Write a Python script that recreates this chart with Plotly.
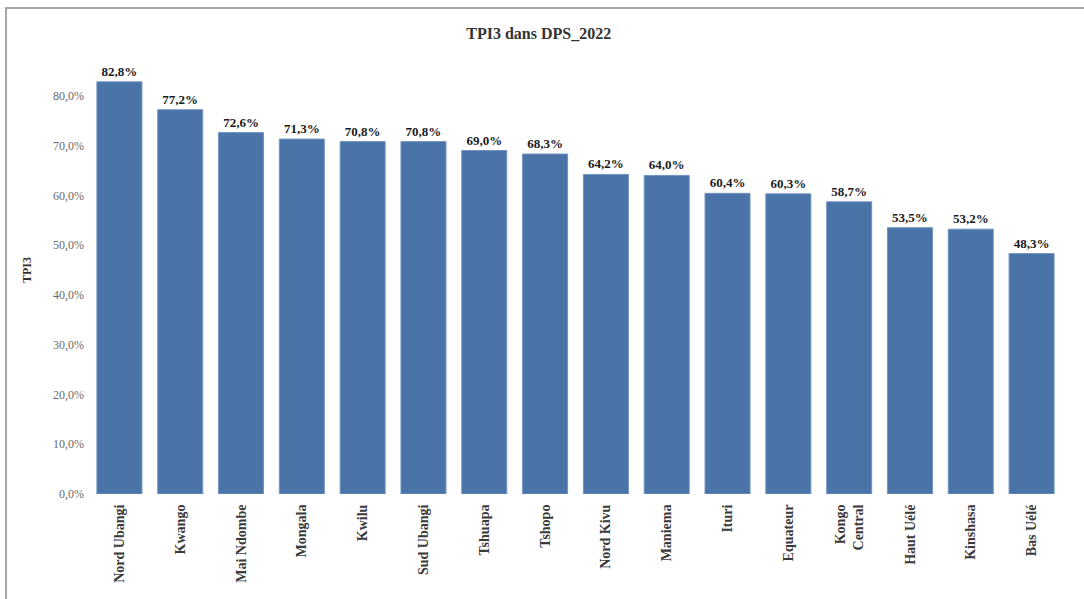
import plotly.graph_objects as go

# DPS (provinces) and their TPI3 coverage for 2022, sorted descending
provinces = [
    "Nord Ubangi", "Kwango", "Mai Ndombe", "Mongala", "Kwilu", "Sud Ubangi",
    "Tshuapa", "Tshopo", "Nord Kivu", "Maniema", "Ituri", "Equateur",
    "Kongo<br>Central", "Haut Uélé", "Kinshasa", "Bas Uélé",
]
tpi3 = [82.8, 77.2, 72.6, 71.3, 70.8, 70.8, 69.0, 68.3, 64.2, 64.0,
        60.4, 60.3, 58.7, 53.5, 53.2, 48.3]

values = [v / 100 for v in tpi3]
labels = ["<b>" + f"{v:.1f}%".replace(".", ",") + "</b>" for v in tpi3]
tick_text = [f"<b>{p}</b>" for p in provinces]

serif = "Liberation Serif"

fig = go.Figure(
    go.Bar(
        x=provinces,
        y=values,
        text=labels,
        textposition="outside",
        cliponaxis=False,
        textfont=dict(family=serif, size=13, color="#1a1a1a"),
        marker=dict(color="#4A74A8", line=dict(color="#6f93c2", width=1)),
        width=0.74,
    )
)

fig.update_layout(
    width=1084,
    height=599,
    margin=dict(l=89, r=22, t=46, b=105),
    paper_bgcolor="white",
    plot_bgcolor="white",
    separators=", ",
    showlegend=False,
    title=dict(
        text="<b>TPI3 dans DPS_2022</b>",
        x=0.497,
        xanchor="center",
        y=0.945,
        yanchor="middle",
        font=dict(family=serif, size=16, color="#333333"),
    ),
    font=dict(family=serif),
    xaxis=dict(
        tickangle=-90,
        tickmode="array",
        tickvals=provinces,
        ticktext=tick_text,
        tickfont=dict(family=serif, size=14, color="#3a3a3a"),
        showgrid=False,
        showline=False,
        ticks="outside",
        ticklen=4,
        tickcolor="rgba(0,0,0,0)",
    ),
    yaxis=dict(
        range=[0, 0.9],
        tickvals=[i / 10 for i in range(9)],
        tickformat=".1%",
        tickfont=dict(family=serif, size=12, color="#6a6a6a"),
        ticklabelstandoff=4,
        showgrid=False,
        zeroline=False,
        showline=False,
        title=dict(
            text="<b>TPI3</b>",
            font=dict(family=serif, size=12, color="#333333"),
            standoff=18,
        ),
    ),
    shapes=[
        dict(
            type="rect",
            xref="paper",
            yref="paper",
            x0=-0.0853,
            x1=1.2,
            y0=-0.5,
            y1=1.0848,
            line=dict(color="#a6a6a6", width=2),
            fillcolor="rgba(0,0,0,0)",
            layer="below",
        )
    ],
)

fig.write_html("out.html")
